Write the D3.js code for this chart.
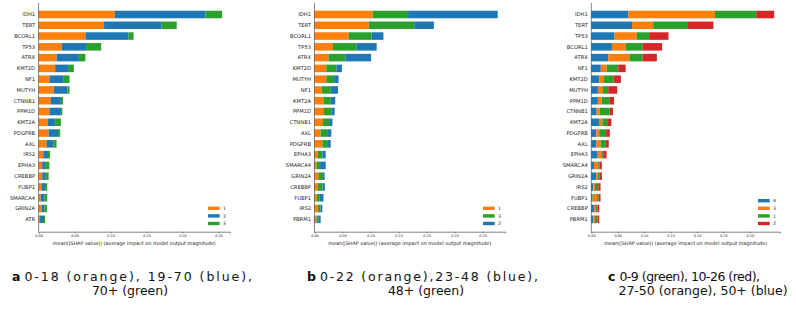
<!DOCTYPE html>
<html lang="en">
<head>
<meta charset="UTF-8">
<title>shap bars</title>
<script src="https://cdn.jsdelivr.net/npm/d3@7"></script>
<style>
	body { margin: 0; background: #fff; }
	svg { display: block; }
	text { font-family: "DejaVu Sans", sans-serif; }
</style>
</head>
<body>
<svg id="cont" width="796" height="318"></svg>
<script>
	// panel a : age groups 1 / 2 / 3
	let genesA = ["IDH1","TERT","BCORL1","TP53","ATRX","KMT2D","NF1","MUTYH","CTNNB1","PPM1D","KMT2A","PDGFRB","AXL","IRS2","EPHA3","CREBBP","FUBP1","SMARCA4","GRIN2A","ATR"];
	let a1 = [.106,.091,.065,.032,.025,.023,.015,.021,.017,.015,.013,.014,.011,.0065,.005,.005,.004,.003,.004,.002];
	let a2 = [.126,.080,.060,.034,.031,.018,.020,.019,.014,.016,.010,.013,.010,.0065,.005,.005,.005,.005,.004,.0055];
	let a3 = [.023,.021,.007,.021,.009,.008,.008,.003,.003,.002,.008,.003,.004,.003,.005,.004,.003,.004,.0035,.0015];

	// panel b
	let genesB = ["IDH1","TERT","BCORL1","TP53","ATRX","KMT2D","MUTYH","NF1","KMT2A","PPM1D","CTNNB1","AXL","PDGFRB","EPHA3","SMARCA4","GRIN2A","CREBBP","FUBP1","IRS2","PBRM1"];
	let b1 = [.104,.097,.061,.033,.025,.021,.021,.013,.017,.017,.015,.011,.014,.006,.0035,.007,.006,.004,.006,.0035];
	let b3 = [.063,.081,.041,.042,.030,.018,.014,.016,.012,.013,.011,.013,.010,.008,.0065,.008,.008,.0055,.005,.0035];
	let b2 = [.160,.035,.021,.036,.046,.010,.008,.013,.008,.006,.006,.006,.005,.006,.010,.003,.0045,.0065,.003,.004];

	// panel c
	let genesC = ["IDH1","TERT","TP53","BCORL1","ATRX","NF1","KMT2D","MUTYH","PPM1D","CTNNB1","KMT2A","PDGFRB","AXL","EPHA3","SMARCA4","GRIN2A","IRS2","FUBP1","CREBBP","PBRM1"];
	let c4 = [.070,.077,.044,.039,.032,.018,.015,.0125,.0125,.010,.0145,.0095,.0095,.012,.005,.009,.004,.0025,.005,.004];
	let c3 = [.164,.040,.042,.026,.040,.011,.009,.0095,.007,.006,.0065,.0055,.008,.007,.008,.0035,.003,.0085,.0025,.003];
	let c1 = [.078,.066,.025,.032,.025,.022,.018,.010,.0155,.019,.009,.013,.010,.0035,.0025,.003,.006,.003,.0045,.005];
	let c2 = [.034,.048,.035,.037,.027,.014,.014,.017,.008,.006,.008,.007,.0055,.0065,.0045,.0045,.0045,.0035,.003,.003];

	let ticksA = [0,0.05,0.10,0.15,0.20,0.25];
	let ticksBC = [0,0.05,0.10,0.15,0.20,0.25,0.30];

	let xLabel = "mean(|SHAP value|) (average impact on model output magnitude)";

	let orange = "#ff7f0e", blue = "#1f77b4", green = "#2ca02c", red = "#d62728";

	let panels = [
		{ genes: genesA, keys: ["1","2","3"], vals: [a1,a2,a3], colors: [orange,blue,green],
		  x0: 38.6, x1: 230, max: 0.266, ticks: ticksA,
		  cap: ["a", "0-18 (orange), 19-70 (blue),", "70+ (green)"], l1: [12, 252], c2: 130 },
		{ genes: genesB, keys: ["1","3","2"], vals: [b1,b3,b2], colors: [orange,green,blue],
		  x0: 314.5, x1: 505, max: 0.340, ticks: ticksBC,
		  cap: ["b", "0-22 (orange),23-48 (blue),", "48+ (green)"], l1: [307, 538], c2: 426 },
		{ genes: genesC, keys: ["4","3","1","2"], vals: [c4,c3,c1,c2], colors: [blue,orange,green,red],
		  x0: 591.3, x1: 780, max: 0.357, ticks: ticksBC,
		  cap: ["c", "0-9 (green), 10-26 (red),", "27-50 (orange), 50+ (blue)"], l1: [608, 760], c2: 703 }
	];

	let svg = d3.select("#cont");

	for (let p of panels) showdata(p);

	function showdata(p)
	{
		let g = svg.append("g");
		let rows = p.genes.map((gname, i) => {
			let r = { gene: gname };
			p.keys.forEach((k, j) => r[k] = p.vals[j][i]);
			return r;
		});
		let series = d3.stack().keys(p.keys)(rows);

		let x = d3.scaleLinear().domain([0, p.max]).range([p.x0, p.x1]);
		let y = d3.scalePoint().domain(p.genes).range([14.5, 219.3]);
		let bh = y.step() * 0.7;
		let color = d3.scaleOrdinal().domain(p.keys).range(p.colors);

		g.selectAll("g.s")
			.data(series)
			.join("g")
			.attr("class", "s")
			.attr("fill", d => color(d.key))
			.selectAll("rect")
			.data(d => d)
			.join("rect")
			.attr("x", d => x(d[0]))
			.attr("width", d => x(d[1]) - x(d[0]))
			.attr("y", d => y(d.data.gene) - bh / 2)
			.attr("height", bh);

		// left spine
		g.append("line")
			.attr("x1", p.x0).attr("x2", p.x0)
			.attr("y1", 3).attr("y2", 231.7)
			.attr("stroke", "#333").attr("stroke-width", 0.6);

		// gene labels
		g.selectAll("text.gene")
			.data(p.genes)
			.join("text")
			.attr("class", "gene")
			.attr("x", p.x0 - 3.5)
			.attr("y", d => y(d))
			.attr("dy", "0.35em")
			.attr("text-anchor", "end")
			.attr("font-size", 5.2)
			.attr("fill", "#222")
			.text(d => d);

		// x axis
		let xaxis = d3.axisBottom(x)
			.tickValues(p.ticks)
			.tickFormat(d3.format(".2f"))
			.tickSize(1.6)
			.tickPadding(0.8);
		let ax = g.append("g")
			.attr("transform", "translate(0,231.7)")
			.call(xaxis);
		ax.select(".domain").attr("stroke", "#333").attr("stroke-width", 0.6);
		ax.selectAll(".tick line").attr("stroke", "#333").attr("stroke-width", 0.5);
		ax.selectAll(".tick text")
			.attr("font-size", 3.4)
			.attr("font-family", "DejaVu Sans")
			.attr("fill", "#222");

		g.append("text")
			.attr("x", (p.x0 + p.x1) / 2)
			.attr("y", 245)
			.attr("text-anchor", "middle")
			.attr("font-size", 4.9)
			.attr("fill", "#222")
			.text(xLabel);

		// legend, anchored to bottom right
		let n = p.keys.length;
		let leg = g.selectAll("g.leg")
			.data(p.keys)
			.join("g")
			.attr("class", "leg")
			.attr("transform", (d, i) => "translate(" + (p.x1 - 22) + "," + (223.5 - (n - 1 - i) * 7.6) + ")");
		leg.append("rect")
			.attr("x", 0).attr("y", -1.7)
			.attr("width", 11.7).attr("height", 3.4)
			.attr("fill", d => color(d));
		leg.append("text")
			.attr("x", 15)
			.attr("dy", "0.35em")
			.attr("font-size", 4.6)
			.attr("fill", "#222")
			.text(d => d);

		// caption: bold letter, then the rest fitted to the line width
		let lead = svg.append("text")
			.attr("x", p.l1[0]).attr("y", 280.5)
			.attr("font-size", 12.5)
			.attr("font-weight", "bold")
			.attr("fill", "#111")
			.text(p.cap[0]);
		let lw = lead.node().getComputedTextLength() + 4;
		svg.append("text")
			.attr("x", p.l1[0] + lw).attr("y", 280.5)
			.attr("font-size", 12.5)
			.attr("fill", "#111")
			.attr("textLength", p.l1[1] - p.l1[0] - lw)
			.attr("lengthAdjust", "spacing")
			.text(p.cap[1]);
		svg.append("text")
			.attr("x", p.c2).attr("y", 294.5)
			.attr("text-anchor", "middle")
			.attr("font-size", 12.5)
			.attr("fill", "#111")
			.text(p.cap[2]);
	}
</script>
</body>
</html>
